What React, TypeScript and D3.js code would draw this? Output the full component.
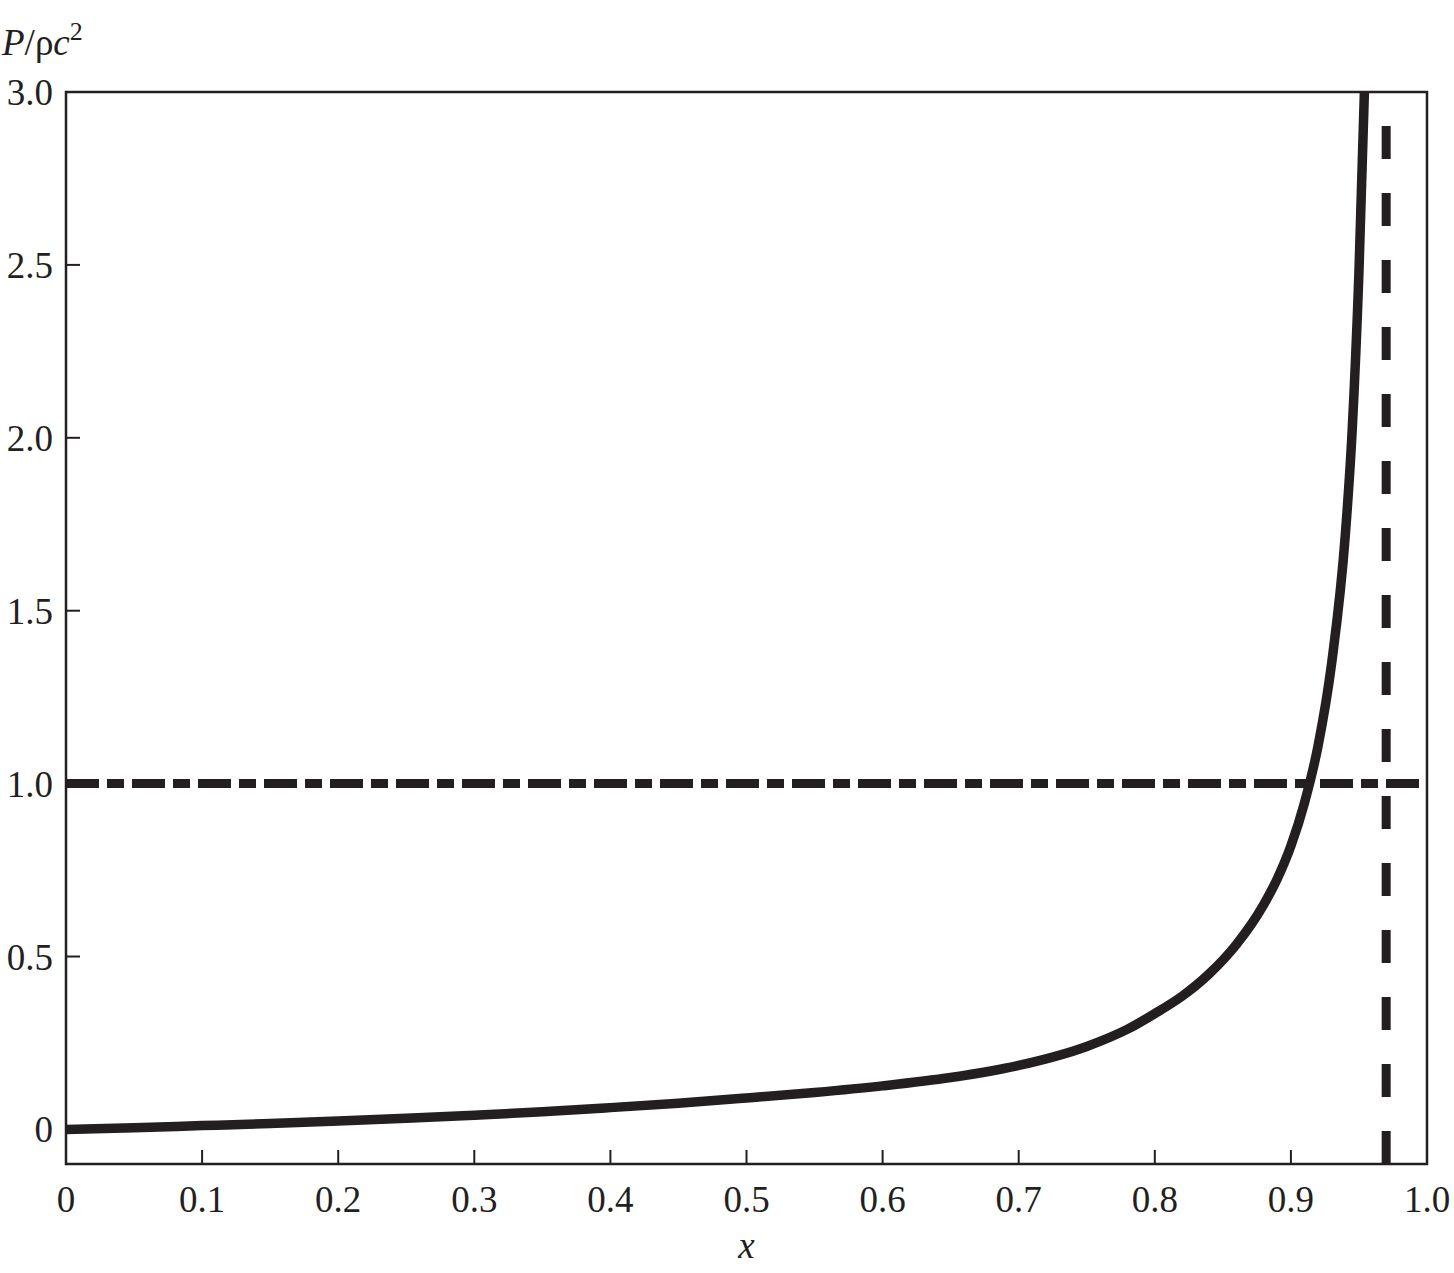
import React from 'react';
import * as d3 from 'd3';

// values
const xValues = [0, 0.05, 0.1, 0.15, 0.2, 0.25, 0.3, 0.35, 0.4, 0.45, 0.5, 0.55, 0.6, 0.65, 0.7, 0.75, 0.78, 0.8, 0.82, 0.84, 0.86, 0.88, 0.89, 0.9, 0.91, 0.92, 0.93, 0.94, 0.945, 0.95, 0.954];
const pressure = [0, 0.005, 0.011, 0.017, 0.024, 0.032, 0.041, 0.051, 0.063, 0.076, 0.091, 0.107, 0.126, 0.15, 0.185, 0.24, 0.29, 0.335, 0.385, 0.45, 0.535, 0.65, 0.725, 0.82, 0.945, 1.11, 1.35, 1.72, 2.02, 2.48, 3.0];
const asymptoteX = 0.97;
const limitY = 1.0;
const xTicks = [0, 0.1, 0.2, 0.3, 0.4, 0.5, 0.6, 0.7, 0.8, 0.9, 1.0];
const xTickLabels = ['0', '0.1', '0.2', '0.3', '0.4', '0.5', '0.6', '0.7', '0.8', '0.9', '1.0'];
const yTicks = [0, 0.5, 1.0, 1.5, 2.0, 2.5, 3.0];
const yTickLabels = ['0', '0.5', '1.0', '1.5', '2.0', '2.5', '3.0'];

const W = 1454;
const H = 1273;
const margin = { top: 92, right: 27, bottom: 109, left: 66 };
const ink = '#231f20';
const font = '"Liberation Serif", "Times New Roman", serif';

export default function App() {
  const x = d3.scaleLinear().domain([0, 1]).range([margin.left, W - margin.right]);
  const y = d3.scaleLinear().domain([-0.1, 3.0]).range([H - margin.bottom, margin.top]);

  const data = xValues.map((v, i) => ({ x: v, p: pressure[i] }));
  const line = d3.line<{ x: number; p: number }>()
    .curve(d3.curveMonotoneX)
    .x(d => x(d.x))
    .y(d => y(d.p));

  const x0 = x(0), x1 = x(1), yb = y(-0.1), yt = y(3.0);

  return (
    <svg width={W} height={H} style={{ position: 'absolute', left: 0, top: 0, background: '#fff' }}>
      <defs>
        <clipPath id="plot">
          <rect x={x0} y={yt} width={x1 - x0} height={yb - yt} />
        </clipPath>
      </defs>

      {/* reference lines */}
      <line x1={x0} x2={x1} y1={y(limitY)} y2={y(limitY)} stroke={ink} strokeWidth={9} strokeDasharray="33,8,17,8" />
      <line x1={x(asymptoteX)} x2={x(asymptoteX)} y1={yb} y2={yt} stroke={ink} strokeWidth={9} strokeDasharray="33,34" />

      {/* curve */}
      <path d={line(data) || ''} fill="none" stroke={ink} strokeWidth={9.5} clipPath="url(#plot)" />

      {/* frame */}
      <rect x={x0} y={yt} width={x1 - x0} height={yb - yt} fill="none" stroke={ink} strokeWidth={2.5} />

      {/* x axis */}
      {xTicks.map((t, i) => (
        <g key={'x' + i}>
          {i > 0 && i < xTicks.length - 1 && (
            <line x1={x(t)} x2={x(t)} y1={yb} y2={yb - 14} stroke={ink} strokeWidth={2} />
          )}
          <text x={x(t)} y={yb + 48} textAnchor="middle" fontFamily={font} fontSize={37} fill={ink}>
            {xTickLabels[i]}
          </text>
        </g>
      ))}

      {/* y axis */}
      {yTicks.map((t, i) => (
        <g key={'y' + i}>
          {t > 0 && t < 3 && (
            <line x1={x0} x2={x0 + 14} y1={y(t)} y2={y(t)} stroke={ink} strokeWidth={2} />
          )}
          <text x={53} y={y(t) + 13} textAnchor="end" fontFamily={font} fontSize={37} fill={ink}>
            {yTickLabels[i]}
          </text>
        </g>
      ))}

      {/* axis titles */}
      <text x={(x0 + x1) / 2} y={1258} textAnchor="middle" fontFamily={font} fontSize={37} fontStyle="italic" fill={ink}>x</text>
      <text x={2} y={55} fontFamily={font} fontSize={37} fill={ink}>
        <tspan fontStyle="italic">P</tspan>
        <tspan>/ρ</tspan>
        <tspan fontStyle="italic">c</tspan>
        <tspan fontSize={26} dy={-15}>2</tspan>
      </text>
    </svg>
  );
}
